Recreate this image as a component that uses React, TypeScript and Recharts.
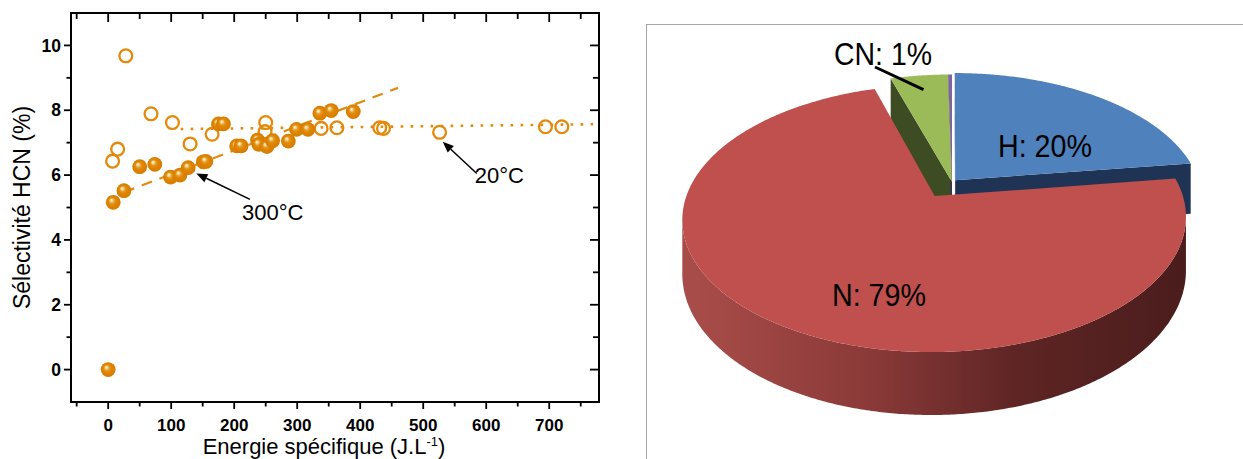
import React from 'react';
import { ScatterChart, Scatter, XAxis, YAxis, ReferenceArea, ReferenceLine, Label, PieChart, Pie } from 'recharts';

// ---------------- Left chart data ----------------
const energy20 = [7, 15, 28, 68, 102, 130, 165, 250, 249, 338, 363, 431, 437, 526, 694, 720];
const hcn20 = [6.43, 6.8, 9.68, 7.89, 7.62, 6.96, 7.26, 7.62, 7.34, 7.44, 7.46, 7.46, 7.44, 7.32, 7.49, 7.49];

const energy300 = [0, 8, 25, 50, 74, 99, 114, 127, 151, 155, 175, 183, 204, 211, 237, 239, 252, 261, 286, 299, 317, 336, 354, 389];
const hcn300 = [0, 5.16, 5.52, 6.26, 6.33, 5.94, 6.0, 6.23, 6.41, 6.42, 7.58, 7.58, 6.9, 6.9, 7.08, 6.95, 6.88, 7.06, 7.05, 7.41, 7.41, 7.91, 7.99, 7.96];

const trend20X = [115, 779];
const trend20Y = [7.42, 7.57];
const trend300X = [25, 460];
const trend300Y = [5.47, 8.69];

const xTicks = [-50, 0, 50, 100, 150, 200, 250, 300, 350, 400, 450, 500, 550, 600, 650, 700, 750];
const yTicks = [0, 1, 2, 3, 4, 5, 6, 7, 8, 9, 10];
const xDomain = [-59, 779];
const yDomain = [-1, 11];

const xTitle = 'Energie spécifique (J.L';
const yTitle = 'Sélectivité HCN (%)';

const notes = [
  { text: '300°C', tail: [225, 5.25], tip: [140, 6.05], dx: -8, dy: 21 },
  { text: '20°C', tail: [585, 6.05], tip: [531, 7.03], dx: -2, dy: 10 },
];

const zip = (xs: number[], ys: number[]) => xs.map((x, i) => ({ x, y: ys[i] }));
const data20 = zip(energy20, hcn20);
const data300 = zip(energy300, hcn300);
const trend20 = zip(trend20X, trend20Y);
const trend300 = zip(trend300X, trend300Y);

// ---------------- Right chart data ----------------
const pieNames = ['H', 'N', 'CN', 'C'];
const pieShares = [22.8, 72.5, 4.4, 0.3];
const pieLabels = ['H: 20%', 'N: 79%', 'CN: 1%', ''];
const pieData = pieNames.map((name, i) => ({ name, value: pieShares[i] }));

// ---------------- Styles ----------------
const ORANGE = '#E38A0C';
const FONT = '"Liberation Sans", Arial, sans-serif';
const PLOT_TOP = 13;
const PLOT_RIGHT = 599;

const PIE_TOP = ['#4F81BD', '#C0504D', '#9BBB59', '#8064A2'];
const PIE_SIDE = ['#1F3454', 'url(#redWall)', '#3E4C23', '#3F2F55'];
const EXPLODE = [0.02, 0.13, 0, 0];
const PIE_CX = 312;
const PIE_CY = 182.1;
const PIE_R = 243.8;
const PERSP = 0.164;
const TILT = 125.3 / 243.8;
const DEPTH = 51.5;
const PIE_LABEL_POS = [
  { x: 405, y: 157, w: 94 },
  { x: 239, y: 306, w: 94 },
  { x: 243, y: 65, w: 98, lx: 235, ly: 67 },
  null,
];

// ---------------- Left chart pieces ----------------
const XTick = (props: any) => {
  const { x, y, payload } = props;
  const v = payload.value;
  const major = v % 100 === 0;
  return (
    <g>
      <line x1={x} y1={y} x2={x} y2={y + (major ? 7 : 4.5)} stroke="#000" strokeWidth={1.8} />
      <line x1={x} y1={PLOT_TOP} x2={x} y2={PLOT_TOP + (major ? 9 : 6)} stroke="#000" strokeWidth={1.8} />
      {major && (
        <text x={x} y={y + 29} textAnchor="middle" fontSize={17} fontWeight="bold" fontFamily={FONT} fill="#000">
          {v}
        </text>
      )}
    </g>
  );
};

const YTick = (props: any) => {
  const { x, y, payload } = props;
  const v = payload.value;
  const major = v % 2 === 0;
  return (
    <g>
      <line x1={x - (major ? 7 : 4.5)} y1={y} x2={x} y2={y} stroke="#000" strokeWidth={1.8} />
      <line x1={PLOT_RIGHT - (major ? 9 : 6)} y1={y} x2={PLOT_RIGHT} y2={y} stroke="#000" strokeWidth={1.8} />
      {major && (
        <text x={x - 10} y={y} dy="0.35em" textAnchor="end" fontSize={17.5} fontWeight="bold" fontFamily={FONT} fill="#000">
          {v}
        </text>
      )}
    </g>
  );
};

const XTitle = (props: any) => {
  const vb = props.viewBox || { x: 71, y: 402, width: 528 };
  const cx = vb.x + vb.width / 2 - 11;
  return (
    <text x={cx} y={vb.y + 52} textAnchor="middle" fontSize={22} fontFamily={FONT} fill="#000">
      {xTitle}
      <tspan fontSize={13} dy={-8}>-1</tspan>
      <tspan dy={8}>)</tspan>
    </text>
  );
};

const YTitle = (props: any) => {
  const vb = props.viewBox || { x: 0, y: 13, width: 71, height: 389 };
  const cy = vb.y + vb.height / 2;
  const cx = vb.x + 22;
  return (
    <text
      x={cx}
      y={cy}
      transform={`rotate(-90 ${cx} ${cy})`}
      textAnchor="middle"
      dy="0.35em"
      fontSize={23}
      fontFamily={FONT}
      fill="#000"
    >
      {yTitle}
    </text>
  );
};

const OpenCircle = (p: any) => (
  <circle cx={p.cx} cy={p.cy} r={6.4} fill="none" stroke={ORANGE} strokeWidth={2.3} />
);
const Sphere = (p: any) => <circle cx={p.cx} cy={p.cy} r={7.4} fill="url(#sph)" />;
const Nothing = () => <g />;

const makeArrow = (note: any) => (props: any) => {
  const { x1, y1, x2, y2 } = props;
  const ang = Math.atan2(y2 - y1, x2 - x1);
  const L = 11;
  const Wd = 4.5;
  const bx = x2 - L * Math.cos(ang);
  const by = y2 - L * Math.sin(ang);
  const head = `${x2},${y2} ${bx - Wd * Math.sin(ang)},${by + Wd * Math.cos(ang)} ${bx + Wd * Math.sin(ang)},${by - Wd * Math.cos(ang)}`;
  return (
    <g>
      <line x1={x1} y1={y1} x2={bx} y2={by} stroke="#000" strokeWidth={1.5} />
      <polygon points={head} fill="#000" />
      <text x={x1 + note.dx} y={y1 + note.dy} fontSize={22} fontFamily={FONT} fill="#000">
        {note.text}
      </text>
    </g>
  );
};

// ---------------- 3D pie geometry ----------------
type Geo = { a0: number; a1: number; mid: number; ox: number; oz: number; cx: number; cy: number; A: number };

function geo(p: any): Geo {
  const a0 = Math.min(p.startAngle, p.endAngle);
  const a1 = Math.max(p.startAngle, p.endAngle);
  const mid = (a0 + a1) / 2;
  const e = EXPLODE[p.index] || 0;
  const m = (mid * Math.PI) / 180;
  return { a0, a1, mid, ox: e * Math.cos(m), oz: e * Math.sin(m), cx: p.cx, cy: p.cy, A: p.outerRadius };
}

function pt(g: Geo, deg: number, r: number, h: number): [number, number] {
  const t = (deg * Math.PI) / 180;
  const X = r * Math.cos(t) + g.ox;
  const Z = r * Math.sin(t) + g.oz;
  const w = 1 + PERSP * Z;
  return [g.cx + (g.A * X) / w, g.cy - (g.A * TILT * Z) / w + (DEPTH * h) / w];
}

function arc(g: Geo, from: number, to: number, r: number, h: number) {
  const n = Math.max(2, Math.ceil(Math.abs(to - from) / 0.5));
  const out: [number, number][] = [];
  for (let i = 0; i <= n; i++) out.push(pt(g, from + ((to - from) * i) / n, r, h));
  return out;
}

const toPath = (pts: [number, number][]) =>
  'M' + pts.map((q) => q[0].toFixed(2) + ',' + q[1].toFixed(2)).join('L') + 'Z';

function wallVisible(g: Geo, deg: number) {
  const t = (deg * Math.PI) / 180;
  return -g.ox * Math.cos(t) - 1 - (1 / PERSP + g.oz) * Math.sin(t) > 0;
}

function faceVisible(g: Geo, deg: number, nrm: number) {
  const t = (deg * Math.PI) / 180;
  const n = (nrm * Math.PI) / 180;
  const fx = g.ox + 0.5 * Math.cos(t);
  const fz = g.oz + 0.5 * Math.sin(t);
  return Math.cos(n) * -fx + Math.sin(n) * (-1 / PERSP - fz) > 0;
}

const renderSides = (p: any) => {
  const g = geo(p);
  const i = p.index;
  const parts: any[] = [];
  const ends: [number, number][] = [
    [g.a0, g.a0 - 90],
    [g.a1, g.a1 + 90],
  ];
  ends.forEach(([th, nrm], k) => {
    if (faceVisible(g, th, nrm)) {
      const pts: [number, number][] = [pt(g, th, 0, 0), pt(g, th, 1, 0), pt(g, th, 1, 1), pt(g, th, 0, 1)];
      parts.push(<path key={'f' + k} d={toPath(pts)} fill={PIE_SIDE[i] === 'url(#redWall)' ? '#6a2a28' : PIE_SIDE[i]} />);
    }
  });
  // outer walls
  const step = 0.5;
  let runStart: number | null = null;
  const runs: [number, number][] = [];
  for (let a = g.a0; a <= g.a1 + 1e-9; a += step) {
    const vis = wallVisible(g, a);
    if (vis && runStart === null) runStart = a;
    if (!vis && runStart !== null) {
      runs.push([runStart, a - step]);
      runStart = null;
    }
  }
  if (runStart !== null) runs.push([runStart, g.a1]);
  runs.forEach(([s, e], k) => {
    if (e - s <= 0) return;
    const pts = [...arc(g, s, e, 1, 0), ...arc(g, e, s, 1, 1)];
    parts.push(<path key={'w' + k} d={toPath(pts)} fill={PIE_SIDE[i]} />);
  });
  return <g key={'side' + i}>{parts}</g>;
};

const renderTop = (p: any) => {
  const g = geo(p);
  const i = p.index;
  const pts: [number, number][] = [pt(g, g.a0, 0, 0), ...arc(g, g.a0, g.a1, 1, 0)];
  return <path key={'top' + i} d={toPath(pts)} fill={PIE_TOP[i]} />;
};

const renderText = (p: any) => {
  const i = p.index;
  const txt = pieLabels[i];
  const pos: any = PIE_LABEL_POS[i];
  if (!txt || !pos) return <g key={'t' + i} />;
  const g = geo(p);
  const end = pt(g, g.mid, 0.85, 0);
  return (
    <g key={'t' + i}>
      {pos.lx !== undefined && (
        <line x1={pos.lx} y1={pos.ly} x2={end[0]} y2={end[1]} stroke="#000" strokeWidth={3} />
      )}
      <text
        x={pos.x}
        y={pos.y}
        textAnchor="middle"
        fontSize={31}
        fontFamily={FONT}
        fill="#000"
        textLength={pos.w}
        lengthAdjust="spacingAndGlyphs"
      >
        {txt}
      </text>
    </g>
  );
};

const pieCommon = {
  data: pieData,
  dataKey: 'value',
  nameKey: 'name',
  cx: PIE_CX,
  cy: PIE_CY,
  outerRadius: PIE_R,
  startAngle: 90,
  endAngle: -270,
  fill: 'none',
  stroke: 'none',
  isAnimationActive: false,
  labelLine: false,
};

export default function App() {
  return (
    <div
      style={{
        position: 'absolute',
        left: 0,
        top: 0,
        width: 1243,
        height: 459,
        overflow: 'hidden',
        background: '#fff',
      }}
    >
      <svg width={0} height={0} style={{ position: 'absolute' }}>
        <defs>
          <radialGradient id="sph" cx="50%" cy="50%" r="50%" fx="36%" fy="33%">
            <stop offset="0%" stopColor="#FAF4C4" />
            <stop offset="18%" stopColor="#F0D78E" />
            <stop offset="34%" stopColor="#E49C30" />
            <stop offset="55%" stopColor="#E08600" />
            <stop offset="100%" stopColor="#D57B00" />
          </radialGradient>
          <linearGradient
            id="redWall"
            gradientUnits="userSpaceOnUse"
            x1={PIE_CX - PIE_R * 1.05}
            y1={0}
            x2={PIE_CX + PIE_R * 0.98}
            y2={0}
          >
            <stop offset="0%" stopColor="#A84C49" />
            <stop offset="35%" stopColor="#8A3A38" />
            <stop offset="65%" stopColor="#5E2524" />
            <stop offset="100%" stopColor="#4A1C1C" />
          </linearGradient>
        </defs>
      </svg>

      <div style={{ position: 'absolute', left: 0, top: 0 }}>
        <ScatterChart width={640} height={459} margin={{ top: 13, right: 41, bottom: 17, left: 0 }}>
          <XAxis
            type="number"
            dataKey="x"
            domain={xDomain}
            ticks={xTicks}
            interval={0}
            tickSize={0}
            tickMargin={0}
            axisLine={false}
            tickLine={false}
            tick={<XTick />}
            height={40}
            allowDataOverflow
          >
            <Label content={<XTitle />} />
          </XAxis>
          <YAxis
            type="number"
            dataKey="y"
            domain={yDomain}
            ticks={yTicks}
            interval={0}
            tickSize={0}
            tickMargin={0}
            axisLine={false}
            tickLine={false}
            tick={<YTick />}
            width={71}
            allowDataOverflow
          >
            <Label content={<YTitle />} />
          </YAxis>
          <ReferenceArea
            x1={xDomain[0]}
            x2={xDomain[1]}
            y1={yDomain[0]}
            y2={yDomain[1]}
            fill="none"
            fillOpacity={0}
            stroke="#000"
            strokeWidth={2}
            ifOverflow="visible"
          />
          <Scatter data={data20} shape={OpenCircle} isAnimationActive={false} />
          <Scatter
            data={trend20}
            shape={Nothing}
            fill={ORANGE}
            line={{ stroke: ORANGE, strokeWidth: 2.6, strokeDasharray: '2.6 7.4' }}
            isAnimationActive={false}
          />
          <Scatter
            data={trend300}
            shape={Nothing}
            fill={ORANGE}
            line={{ stroke: ORANGE, strokeWidth: 2.2, strokeDasharray: '11 8' }}
            isAnimationActive={false}
          />
          <Scatter data={data300} shape={Sphere} isAnimationActive={false} />
          {notes.map((n, k) => (
            <ReferenceLine
              key={k}
              segment={[
                { x: n.tail[0], y: n.tail[1] },
                { x: n.tip[0], y: n.tip[1] },
              ]}
              ifOverflow="visible"
              shape={makeArrow(n)}
            />
          ))}
        </ScatterChart>
      </div>

      <div
        style={{
          position: 'absolute',
          left: 646,
          top: 24,
          width: 700,
          height: 500,
          borderLeft: '1.5px solid #A6A6A6',
          borderTop: '1.5px solid #A6A6A6',
          boxSizing: 'border-box',
        }}
      />

      <div style={{ position: 'absolute', left: 640, top: 0 }}>
        <PieChart width={603} height={459} margin={{ top: 0, right: 0, bottom: 0, left: 0 }}>
          <Pie {...(pieCommon as any)} label={renderSides} />
          <Pie {...(pieCommon as any)} label={renderTop} />
          <Pie {...(pieCommon as any)} label={renderText} />
        </PieChart>
      </div>
    </div>
  );
}
